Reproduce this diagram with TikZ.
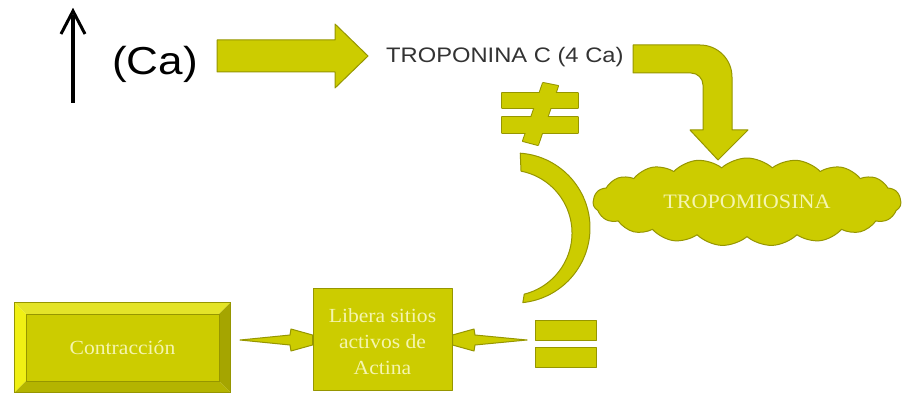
\documentclass[tikz,border=0pt]{standalone}
\usepackage{fontspec}
\setmainfont{Liberation Serif}
\newfontfamily\capsans[FakeStretch=1.13]{Liberation Sans}
\newfontfamily\labelserif[FakeStretch=1.08]{Liberation Serif}
\usetikzlibrary{shapes.symbols,calc}

\definecolor{ylw}{RGB}{204,204,0}
\definecolor{ylwedge}{RGB}{150,150,0}
\definecolor{ylwtext}{RGB}{245,245,175}
\definecolor{ylwlight}{RGB}{228,228,40}
\definecolor{ylwbright}{RGB}{240,240,20}
\definecolor{ylwshade}{RGB}{165,165,0}
\definecolor{ylwdeep}{RGB}{180,180,0}

\begin{document}
\begin{tikzpicture}[x=1pt,y=-1pt,
  block/.style={fill=ylw, draw=ylwedge, line width=1pt, line join=round},
  outlinepass/.style={draw=ylwedge, line width=2pt, line join=round},
  fillpass/.style={fill=ylw},
  lbl/.style={text=ylwtext, font=\labelserif\fontsize{20}{26}\selectfont,
    align=center, inner sep=0pt},
]
\useasboundingbox[fill=white] (0,0) rectangle (902,393);

% rising calcium: plain black arrow
\coordinate (uptail) at (73,103);
\coordinate (uptip) at (73,11);
\draw[line width=3.5pt] (uptail) -- ($(uptip)+(0,4)$);
\draw[line width=3pt, line join=miter] ($(uptip)+(-12,23)$) -- (uptip) -- ($(uptip)+(12,23)$);

\node[anchor=base west, inner sep=0pt,
  font=\capsans\fontsize{39}{39}\selectfont] (ca) at (112,75) {(Ca)};

% block arrow towards troponin C
\draw[block] (217,40) -- (335,40) -- (335,24) -- (368,56) -- (335,88)
  -- (335,72) -- (217,72) -- cycle;

\node[anchor=base west, inner sep=0pt, text=black!80,
  font=\capsans\fontsize{21}{21}\selectfont] (tnc) at (386,63) {TROPONINA C (4 Ca)};

% bent arrow down to tropomyosin
\draw[block] (633,45) -- (700,45) arc[start angle=-90, end angle=0, radius=32]
  -- (732,130) -- (748,130) -- (718,160) -- (690,130) -- (703,130)
  -- (703,85) arc[start angle=0, end angle=-90, radius=12] -- (633,73) -- cycle;

% tropomyosin cloud
\node[cloud, cloud puffs=19, cloud puff arc=85, aspect=3.6,
  minimum width=308pt, minimum height=88pt, inner sep=0pt, block] (tropo) at (747,202) {};
\node[lbl, font=\labelserif\fontsize{20.5}{24}\selectfont] (tropotxt) at (tropo.center) {TROPOMIOSINA};

% not-equal sign (merged outline)
\foreach \pass in {outlinepass, fillpass} {
  \path[\pass] (502,93) rectangle (578,108);
  \path[\pass] (502,117) rectangle (578,133);
  \path[\pass] (543,83) -- (558,86) -- (538,145) -- (523,141) -- cycle;
}

% crescent bracket
\coordinate (arco) at (515,228);
\coordinate (arci) at (509,233);
\draw[block] ($(arco)+(-86:75)$) arc[start angle=-86, end angle=84, radius=75]
  -- ($(arci)+(76:63)$) arc[start angle=76, end angle=-79, radius=63] -- cycle;

% equal sign
\draw[block] (535,320) rectangle (596,340);
\draw[block] (535,347) rectangle (596,367);

% bevelled box: Contraccion
\node[minimum width=215pt, minimum height=89pt, inner sep=0pt] (contr) at (122.5,347.5) {};
\coordinate (cnw) at ($(contr.north west)+(11,11)$);
\coordinate (cne) at ($(contr.north east)+(-11,11)$);
\coordinate (csw) at ($(contr.south west)+(11,-11)$);
\coordinate (cse) at ($(contr.south east)+(-11,-11)$);
\fill[ylw] (cnw) rectangle (cse);
\fill[ylwlight] (contr.north west) -- (contr.north east) -- (cne) -- (cnw) -- cycle;
\fill[ylwbright] (contr.north west) -- (cnw) -- (csw) -- (contr.south west) -- cycle;
\fill[ylwshade] (contr.north east) -- (contr.south east) -- (cse) -- (cne) -- cycle;
\fill[ylwdeep] (contr.south west) -- (csw) -- (cse) -- (contr.south east) -- cycle;
\draw[ylwedge, line width=0.6pt] (cnw) rectangle (cse);
\draw[ylwedge, line width=1pt] (contr.north west) rectangle (contr.south east);
\node[lbl] (contrtxt) at (contr.center) {Contracción};

% middle box
\node[block, minimum width=139pt, minimum height=102pt, inner sep=0pt] (libera) at (382.5,339) {};
\node[lbl] (liberatxt) at (382.5,342) {Libera sitios\\activos de\\Actina};

% tapered pointers on both sides of the middle box
\draw[block] (240,340) -- (290,335) -- (291,329) -- (libera.west |- 0,335)
  -- (libera.west |- 0,345) -- (291,351) -- (290,345) -- cycle;
\draw[block] (libera.east |- 0,335) -- (474,329) -- (475,335) -- (527,340)
  -- (475,345) -- (474,351) -- (libera.east |- 0,345) -- cycle;
\end{tikzpicture}
\end{document}
